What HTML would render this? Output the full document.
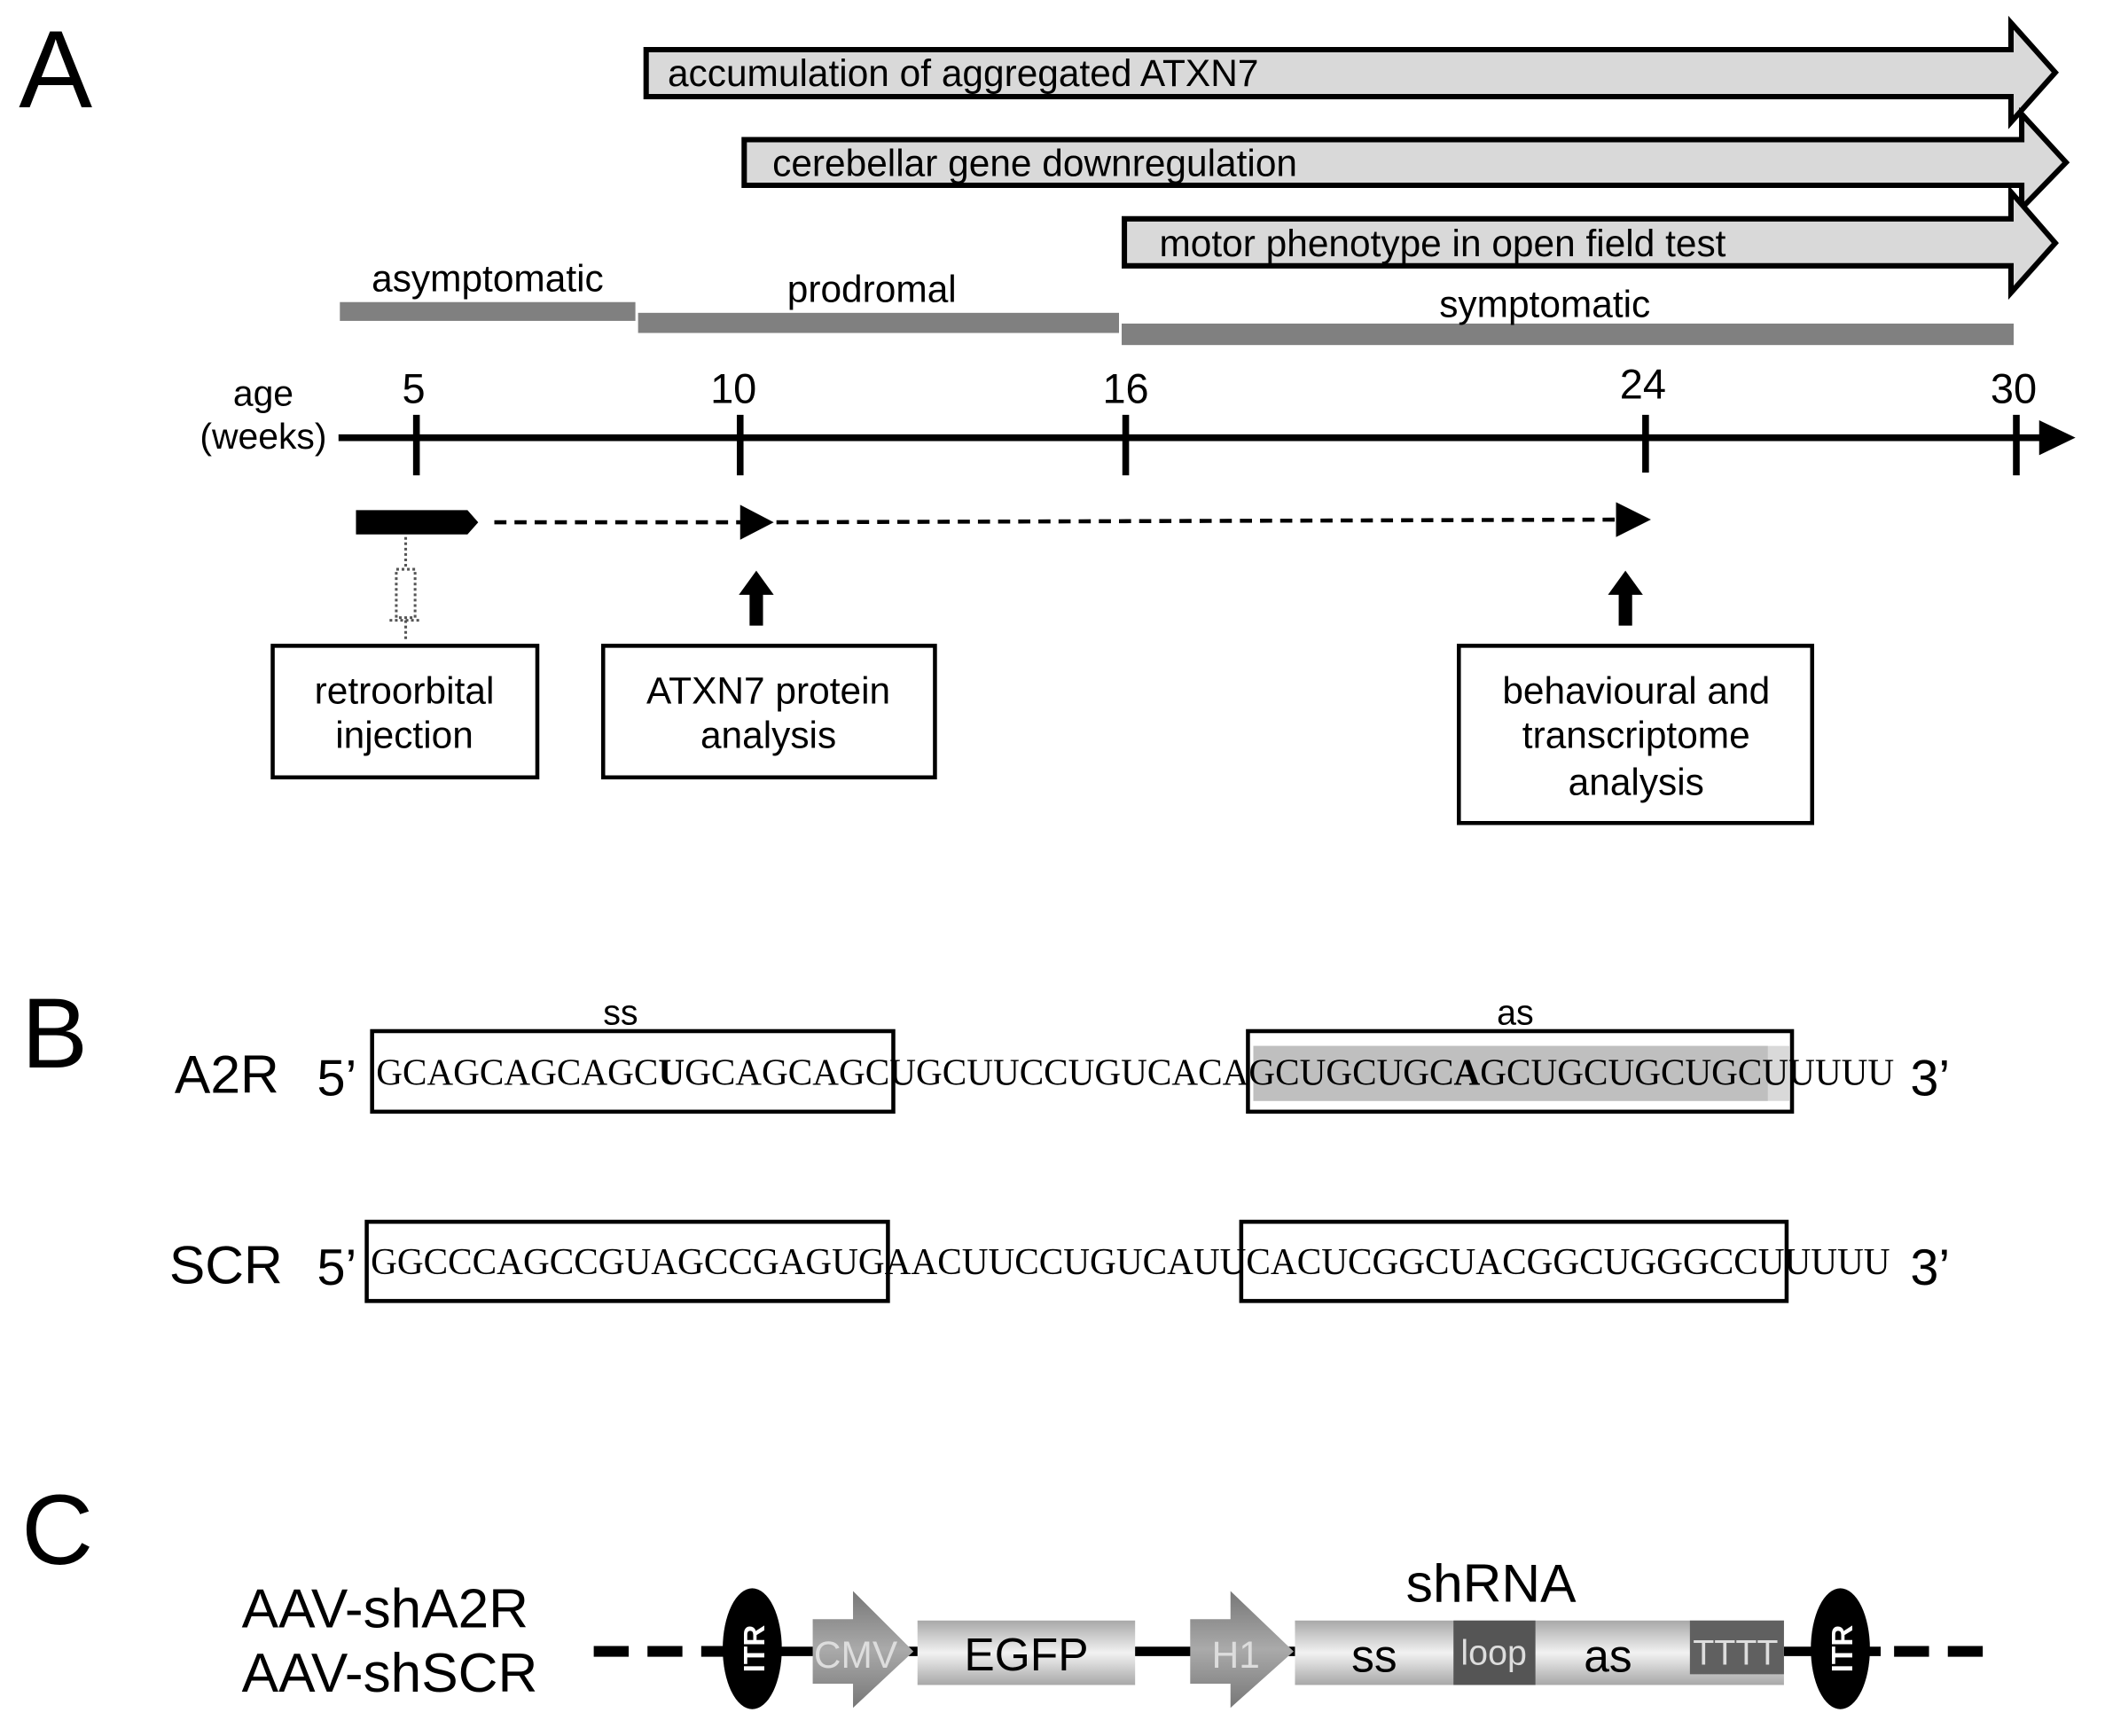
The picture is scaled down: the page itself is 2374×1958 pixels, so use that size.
<!DOCTYPE html>
<html><head><meta charset="utf-8"><style>html,body{margin:0;padding:0;background:#fff}svg{display:block}</style></head>
<body>
<svg width="2374" height="1958" viewBox="0 0 1567 1293" preserveAspectRatio="none" xmlns="http://www.w3.org/2000/svg" font-family="Liberation Sans, Arial, sans-serif">
<defs>
<linearGradient id="g" x1="0" y1="0" x2="0" y2="1"><stop offset="0" stop-color="#a8a8a8"/><stop offset="0.5" stop-color="#f2f2f2"/><stop offset="1" stop-color="#a8a8a8"/></linearGradient>
<linearGradient id="ga" x1="0" y1="0" x2="0" y2="1"><stop offset="0" stop-color="#777"/><stop offset="0.5" stop-color="#aaa"/><stop offset="1" stop-color="#777"/></linearGradient>
</defs>
<rect width="1567" height="1293" fill="#fff"/>
<text x="14" y="80" font-size="82">A</text>
<polygon points="481,37 1497,37 1497,17 1530,54 1497,91 1497,72 481,72" fill="#d9d9d9" stroke="#000" stroke-width="4"/>
<text x="497" y="64" font-size="28">accumulation of aggregated ATXN7</text>
<polygon points="554,104 1505,104 1505,85 1538,121 1505,155 1505,138 554,138" fill="#d9d9d9" stroke="#000" stroke-width="4"/>
<text x="575" y="131" font-size="28">cerebellar gene downregulation</text>
<polygon points="837,163 1497,163 1497,143 1530,181 1497,218 1497,198 837,198" fill="#d9d9d9" stroke="#000" stroke-width="4"/>
<text x="863" y="191" font-size="28">motor phenotype in open field test</text>
<rect x="253" y="225" width="220" height="14" fill="#808080"/>
<text x="363" y="217" font-size="28" text-anchor="middle">asymptomatic</text>
<rect x="475" y="233" width="358" height="15" fill="#808080"/>
<text x="649" y="225" font-size="28" text-anchor="middle">prodromal</text>
<rect x="835" y="241" width="664" height="16" fill="#808080"/>
<text x="1150" y="236" font-size="28" text-anchor="middle">symptomatic</text>
<text x="196" y="302" font-size="27" text-anchor="middle">age</text>
<text x="196" y="334" font-size="27" text-anchor="middle">(weeks)</text>
<g font-size="31" text-anchor="middle">
<text x="308" y="300">5</text><text x="546" y="300">10</text><text x="838" y="300">16</text><text x="1223" y="297">24</text><text x="1499" y="300">30</text></g>
<line x1="252" y1="326" x2="1522" y2="326" stroke="#000" stroke-width="5"/>
<polygon points="1518,313 1545,326 1518,339" fill="#000"/>
<g stroke="#000" stroke-width="5">
<line x1="310" y1="309" x2="310" y2="354"/><line x1="551" y1="309" x2="551" y2="354"/><line x1="838" y1="309" x2="838" y2="354"/><line x1="1225" y1="309" x2="1225" y2="352"/><line x1="1501" y1="309" x2="1501" y2="354"/></g>
<polygon points="265,380 348,380 356,389 348,398 265,398" fill="#000"/>
<line x1="368" y1="389" x2="552" y2="389" stroke="#000" stroke-width="3" stroke-dasharray="9,6"/>
<polygon points="551,376 576,389 551,402" fill="#000"/>
<line x1="578" y1="389" x2="1205" y2="387" stroke="#000" stroke-width="3" stroke-dasharray="9,6"/>
<polygon points="1203,374 1229,387 1203,400" fill="#000"/>
<polygon points="558,466 568,466 568,443 576,443 563,425 550,443 558,443" fill="#000"/>
<polygon points="1205,466 1215,466 1215,443 1223,443 1210,425 1197,443 1205,443" fill="#000"/>
<g stroke="#555" stroke-width="2" fill="none" stroke-dasharray="2,2">
<line x1="302" y1="400" x2="302" y2="424"/>
<rect x="295" y="424" width="14" height="36"/>
<line x1="290" y1="462" x2="314" y2="462"/>
<line x1="302" y1="462" x2="302" y2="476"/></g>
<g fill="#fff" stroke="#000" stroke-width="3">
<rect x="203" y="481" width="197" height="98"/><rect x="449" y="481" width="247" height="98"/><rect x="1086" y="481" width="263" height="132"/></g>
<g font-size="28" text-anchor="middle">
<text x="301" y="524">retroorbital</text><text x="301" y="557">injection</text>
<text x="572" y="524">ATXN7 protein</text><text x="572" y="557">analysis</text>
<text x="1218" y="524">behavioural and</text><text x="1218" y="557">transcriptome</text><text x="1218" y="592">analysis</text></g>
<text x="16" y="795" font-size="74">B</text>
<text x="462" y="763" font-size="26" text-anchor="middle">ss</text>
<text x="1128" y="763" font-size="26" text-anchor="middle">as</text>
<rect x="933" y="779" width="399" height="41" fill="#d9d9d9"/>
<rect x="933" y="779" width="383" height="41" fill="#bfbfbf"/>
<g fill="none" stroke="#000" stroke-width="3">
<rect x="277" y="768" width="388" height="60"/><rect x="929" y="768" width="405" height="60"/>
<rect x="273" y="910" width="388" height="59"/><rect x="924" y="910" width="406" height="59"/></g>
<text x="130" y="814" font-size="40">A2R</text>
<text x="236" y="816" font-size="38">5’</text>
<text x="1422" y="816" font-size="38">3’</text>
<text x="280" y="808" font-size="28" font-family="Liberation Serif, serif" textLength="1130" lengthAdjust="spacingAndGlyphs">GCAGCAGCAGC<tspan font-weight="bold">U</tspan>GCAGCAGCUGCUUCCUGUCACAGCUGCUGC<tspan font-weight="bold">A</tspan>GCUGCUGCUGCUUUUU</text>
<text x="126" y="956" font-size="40">SCR</text>
<text x="236" y="957" font-size="38">5’</text>
<text x="1422" y="957" font-size="38">3’</text>
<text x="276" y="949" font-size="28" font-family="Liberation Serif, serif" textLength="1131" lengthAdjust="spacingAndGlyphs">GGCCCAGCCGUAGCCGAGUGAACUUCCUGUCAUUCACUCGGCUACGGCUGGGCCUUUUU</text>
<text x="16" y="1165" font-size="74">C</text>
<text x="180" y="1212" font-size="41">AAV-shA2R</text>
<text x="180" y="1260" font-size="41">AAV-shSCR</text>
<line x1="442" y1="1230" x2="540" y2="1230" stroke="#000" stroke-width="8" stroke-dasharray="26,14"/>
<line x1="540" y1="1230" x2="1400" y2="1230" stroke="#000" stroke-width="7"/>
<line x1="1400" y1="1230" x2="1480" y2="1230" stroke="#000" stroke-width="8" stroke-dasharray="26,14" stroke-dashoffset="-10"/>
<ellipse cx="560" cy="1228" rx="22" ry="45" fill="#000"/>
<ellipse cx="1370" cy="1228" rx="22" ry="45" fill="#000"/>
<text transform="translate(569,1228) rotate(-90)" font-size="22" fill="#fff" text-anchor="middle" font-weight="bold">ITR</text>
<text transform="translate(1379,1228) rotate(-90)" font-size="22" fill="#fff" text-anchor="middle" font-weight="bold">ITR</text>
<polygon points="605,1206 635,1206 635,1185 680,1230 635,1272 635,1254 605,1254" fill="url(#ga)"/>
<text x="637" y="1242" font-size="28" fill="#ddd" text-anchor="middle">CMV</text>
<rect x="683" y="1207" width="162" height="48" fill="url(#g)"/>
<text x="764" y="1244" font-size="34" text-anchor="middle">EGFP</text>
<polygon points="886,1206 916,1206 916,1185 963,1230 916,1272 916,1254 886,1254" fill="url(#ga)"/>
<text x="920" y="1242" font-size="28" fill="#ddd" text-anchor="middle">H1</text>
<rect x="964" y="1207" width="364" height="48" fill="url(#g)"/>
<rect x="1082" y="1207" width="61" height="48" fill="#555"/>
<rect x="1258" y="1207" width="70" height="40" fill="#606060"/>
<text x="1023" y="1245" font-size="34" text-anchor="middle">ss</text>
<text x="1112" y="1240" font-size="26" fill="#ddd" text-anchor="middle">loop</text>
<text x="1197" y="1245" font-size="34" text-anchor="middle">as</text>
<text x="1292" y="1240" font-size="26" fill="#ddd" text-anchor="middle">TTTT</text>
<text x="1110" y="1193" font-size="40" text-anchor="middle">shRNA</text>
</svg>
</body></html>
